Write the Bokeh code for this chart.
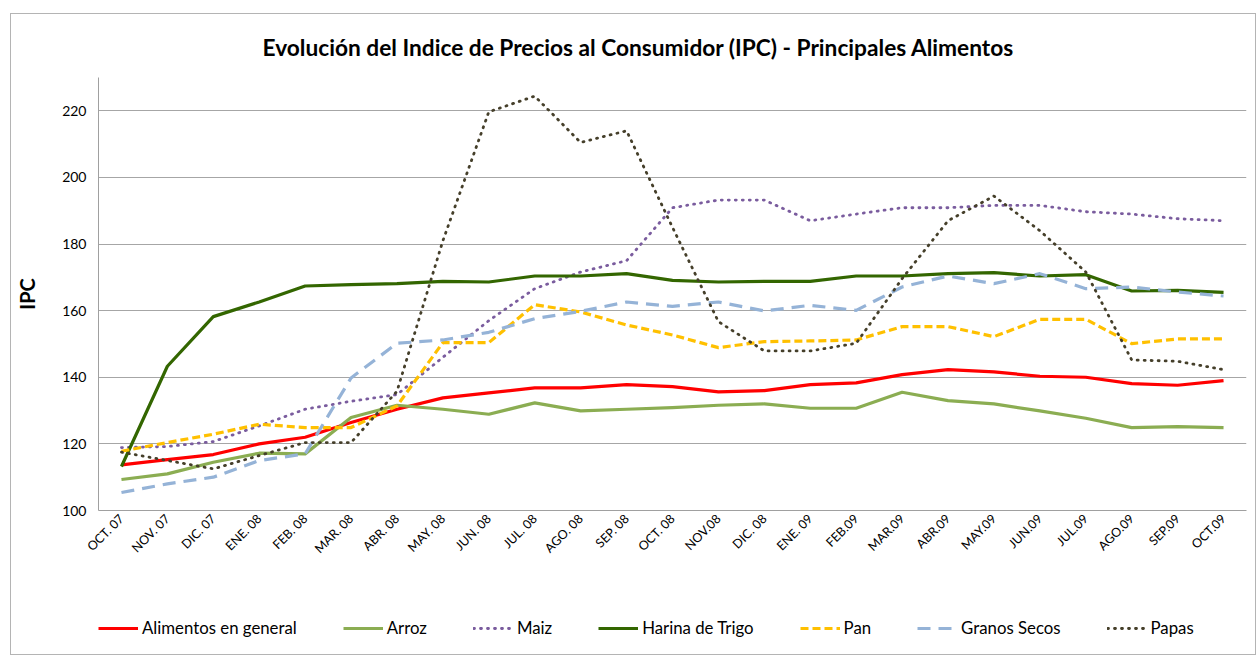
from bokeh.plotting import figure
from bokeh.models import FactorRange, Range1d, Legend, LegendItem, Title, FixedTicker
from bokeh.layouts import column
from bokeh.embed import file_html
from bokeh.resources import INLINE
import math

months = ["OCT. 07", "NOV. 07", "DIC. 07", "ENE. 08", "FEB. 08", "MAR. 08", "ABR. 08",
          "MAY. 08", "JUN. 08", "JUL. 08", "AGO. 08", "SEP. 08", "OCT. 08", "NOV.08",
          "DIC. 08", "ENE. 09", "FEB.09", "MAR.09", "ABR.09", "MAY.09", "JUN.09",
          "JUL.09", "AGO.09", "SEP.09", "OCT.09"]

alimentos = [113.7, 115.3, 116.8, 120.0, 122.0, 126.4, 130.4, 133.8, 135.3, 136.8, 136.8,
             137.8, 137.2, 135.6, 136.0, 137.8, 138.3, 140.8, 142.3, 141.6, 140.3, 140.0,
             138.1, 137.6, 139.0]
arroz = [109.3, 111.0, 114.5, 117.2, 117.0, 127.9, 131.6, 130.4, 128.9, 132.3, 129.9,
         130.4, 130.9, 131.6, 132.0, 130.7, 130.7, 135.5, 133.0, 132.0, 129.9, 127.7,
         124.9, 125.2, 124.9]
maiz = [118.9, 119.2, 120.7, 125.4, 130.4, 132.8, 134.8, 146.0, 157.0, 166.6, 171.6,
        175.0, 190.9, 193.2, 193.2, 187.0, 189.0, 190.9, 190.9, 191.6, 191.6, 189.7,
        189.0, 187.6, 187.0]
harina = [113.2, 143.3, 158.2, 162.6, 167.4, 167.8, 168.1, 168.8, 168.6, 170.4, 170.4,
          171.1, 169.1, 168.6, 168.8, 168.8, 170.4, 170.4, 171.1, 171.4, 170.4, 170.8,
          165.9, 166.1, 165.5]
pan = [117.8, 120.4, 122.9, 125.9, 124.9, 124.9, 131.4, 150.4, 150.4, 161.8, 159.6,
       155.7, 152.7, 148.9, 150.7, 150.9, 151.2, 155.2, 155.2, 152.2, 157.4, 157.4,
       150.1, 151.5, 151.5]
granos = [105.4, 108.0, 110.0, 115.0, 117.0, 139.8, 150.2, 151.2, 153.5, 157.6, 159.8,
          162.6, 161.3, 162.6, 159.9, 161.6, 160.1, 167.1, 170.4, 168.1, 171.1, 166.6,
          167.1, 165.6, 164.4]
papas = [117.5, 115.0, 112.5, 116.5, 120.4, 120.4, 135.8, 181.0, 219.7, 224.4, 210.5,
         214.0, 185.0, 156.7, 147.9, 147.9, 150.2, 169.6, 187.0, 194.4, 184.0, 171.6,
         145.2, 144.8, 142.3]

series_names = ["Alimentos en general", "Arroz", "Maiz", "Harina de Trigo", "Pan",
                "Granos Secos", "Papas"]
y_ticks = [100, 120, 140, 160, 180, 200, 220]

FONT = "Lato"

p = figure(width=1244, height=575, x_range=FactorRange(*months, range_padding=0),
           y_range=Range1d(100, 230), output_backend="svg", toolbar_location=None,
           title=None, min_border_left=87, min_border_right=9, min_border_top=60,
           min_border_bottom=79)
p.outline_line_color = None
p.background_fill_color = "white"
p.border_fill_color = "white"

styles = [
    (alimentos, "#FF0000", 3.2, "solid", "butt"),
    (arroz, "#8BAD52", 3.2, "solid", "butt"),
    (maiz, "#7A5C9E", 2.8, "1 6", "round"),
    (harina, "#336600", 3.2, "solid", "butt"),
    (pan, "#FFC000", 3.2, "8 4", "butt"),
    (granos, "#95B3D7", 3.2, "13 8", "butt"),
    (papas, "#453F2A", 2.8, "1 6", "round"),
]

for vals, color, w, dash, cap in styles:
    p.line(months, vals, line_color=color, line_width=w, line_dash=dash,
           line_cap=cap, line_join="round")

# axes
p.yaxis.ticker = FixedTicker(ticks=y_ticks)
p.yaxis.major_label_text_font = FONT
p.yaxis.major_label_text_font_size = "14px"
p.yaxis.major_label_text_color = "black"
p.yaxis.major_tick_out = 0
p.yaxis.major_tick_in = 0
p.yaxis.minor_tick_out = 0
p.yaxis.minor_tick_in = 0
p.yaxis.major_label_standoff = 12
p.yaxis.axis_line_color = "#a0a0a0"
p.yaxis.axis_label = "IPC"
p.yaxis.axis_label_text_font = FONT
p.yaxis.axis_label_text_font_style = "bold"
p.yaxis.axis_label_text_font_size = "20px"
p.yaxis.axis_label_text_color = "black"
p.yaxis.axis_label_standoff = 20

p.xaxis.major_label_orientation = math.pi / 4
p.xaxis.major_label_text_font = FONT
p.xaxis.major_label_text_font_size = "12.5px"
p.xaxis.major_label_text_color = "black"
p.xaxis.major_tick_out = 0
p.xaxis.major_tick_in = 0
p.xaxis.axis_line_color = "#a0a0a0"
p.xaxis.major_label_standoff = 6

p.xgrid.grid_line_color = None
p.ygrid.grid_line_color = "#a6a6a6"
p.ygrid.grid_line_width = 1

title = Title(text="Evolución del Indice de Precios al Consumidor (IPC) - Principales Alimentos",
              align="left", offset=164, standoff=34, text_font=FONT,
              text_font_style="bold", text_font_size="22.7px", text_color="black")
p.add_layout(title, "above")

# legend strip below the chart: the series are drawn again outside its view range,
# so only their legend glyphs are visible
lf = figure(width=1244, height=65, x_range=FactorRange(*months, range_padding=0),
            y_range=Range1d(0, 1), output_backend="svg", toolbar_location=None, title=None,
            min_border_left=87, min_border_right=9, min_border_top=0, min_border_bottom=0)
lf.axis.visible = False
lf.grid.grid_line_color = None
lf.outline_line_color = None
lf.background_fill_color = "white"
lf.border_fill_color = "white"

items = []
for name, (vals, color, w, dash, cap) in zip(series_names, styles):
    r = lf.line(months, vals, line_color=color, line_width=w, line_dash=dash, line_cap=cap)
    items.append(LegendItem(label=name, renderers=[r]))

legend = Legend(items=items, orientation="horizontal", location=(0, 16),
                glyph_width=40, glyph_height=20, label_standoff=4, spacing=46,
                padding=0, margin=0, border_line_color=None, background_fill_alpha=0,
                label_text_font=FONT, label_text_font_size="16.8px", label_text_color="black")
lf.add_layout(legend, "center")

layout = column(p, lf, spacing=0)
layout.styles = {"margin-left": "10px", "margin-top": "13px", "border": "1px solid #b4b4b4"}

open("out.html", "w").write(file_html(layout, INLINE))
